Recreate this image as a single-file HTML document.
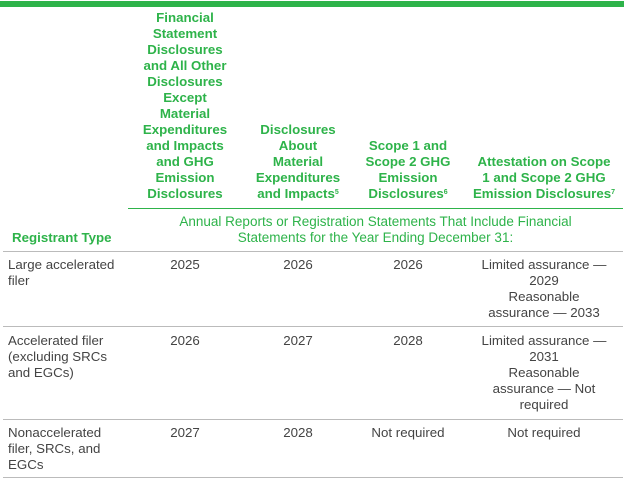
<!DOCTYPE html>
<html><head><meta charset="utf-8"><style>
html,body{margin:0;padding:0;background:#fff;}
body{width:627px;height:480px;position:relative;overflow:hidden;font-family:"Liberation Sans",sans-serif;}
.a{position:absolute;}
.h{color:#2eb34a;font-weight:bold;font-size:13.3px;line-height:16px;text-align:center;}
.t{color:#444;font-size:13.3px;line-height:16px;}
.c{text-align:center;}
.gl{position:absolute;left:3px;width:620px;height:1px;background:#bbb;}
sup{font-size:7px;vertical-align:4px;line-height:0;}
</style></head><body>
<div class="a" style="left:0;top:1px;width:624px;height:6px;background:#2eb34a"></div>

<div class="a h" style="left:122px;top:10px;width:126px">Financial<br>Statement<br>Disclosures<br>and All Other<br>Disclosures<br>Except<br>Material<br>Expenditures<br>and Impacts<br>and GHG<br>Emission<br>Disclosures</div>
<div class="a h" style="left:240px;top:122px;width:116px">Disclosures<br>About<br>Material<br>Expenditures<br>and Impacts<sup>5</sup></div>
<div class="a h" style="left:350px;top:138px;width:116px">Scope 1 and<br>Scope 2 GHG<br>Emission<br>Disclosures<sup>6</sup></div>
<div class="a h" style="left:462px;top:154px;width:164px">Attestation on Scope<br>1 and Scope 2 GHG<br>Emission Disclosures<sup>7</sup></div>

<div class="a" style="left:128px;top:208px;width:495px;height:1px;background:#2eb34a"></div>
<div class="a h" style="left:128px;top:214px;width:495px;font-weight:normal;font-size:13.5px">Annual Reports or Registration Statements That Include Financial<br>Statements for the Year Ending December 31:</div>
<div class="a h" style="left:12px;top:230px;text-align:left">Registrant Type</div>
<div class="gl" style="top:251px"></div>

<div class="a t" style="left:8px;top:257px">Large accelerated<br>filer</div>
<div class="a t c" style="left:128px;top:257px;width:114px">2025</div>
<div class="a t c" style="left:244px;top:257px;width:108px">2026</div>
<div class="a t c" style="left:352px;top:257px;width:112px">2026</div>
<div class="a t c" style="left:462px;top:257px;width:164px">Limited assurance —<br>2029<br>Reasonable<br>assurance — 2033</div>
<div class="gl" style="top:326px"></div>

<div class="a t" style="left:8px;top:333px">Accelerated filer<br>(excluding SRCs<br>and EGCs)</div>
<div class="a t c" style="left:128px;top:333px;width:114px">2026</div>
<div class="a t c" style="left:244px;top:333px;width:108px">2027</div>
<div class="a t c" style="left:352px;top:333px;width:112px">2028</div>
<div class="a t c" style="left:466px;top:333px;width:156px">Limited assurance —<br>2031<br>Reasonable<br>assurance — Not<br>required</div>
<div class="gl" style="top:419px"></div>

<div class="a t" style="left:8px;top:425px">Nonaccelerated<br>filer, SRCs, and<br>EGCs</div>
<div class="a t c" style="left:128px;top:425px;width:114px">2027</div>
<div class="a t c" style="left:244px;top:425px;width:108px">2028</div>
<div class="a t c" style="left:352px;top:425px;width:112px">Not required</div>
<div class="a t c" style="left:466px;top:425px;width:156px">Not required</div>
<div class="gl" style="top:477px"></div>
</body></html>
